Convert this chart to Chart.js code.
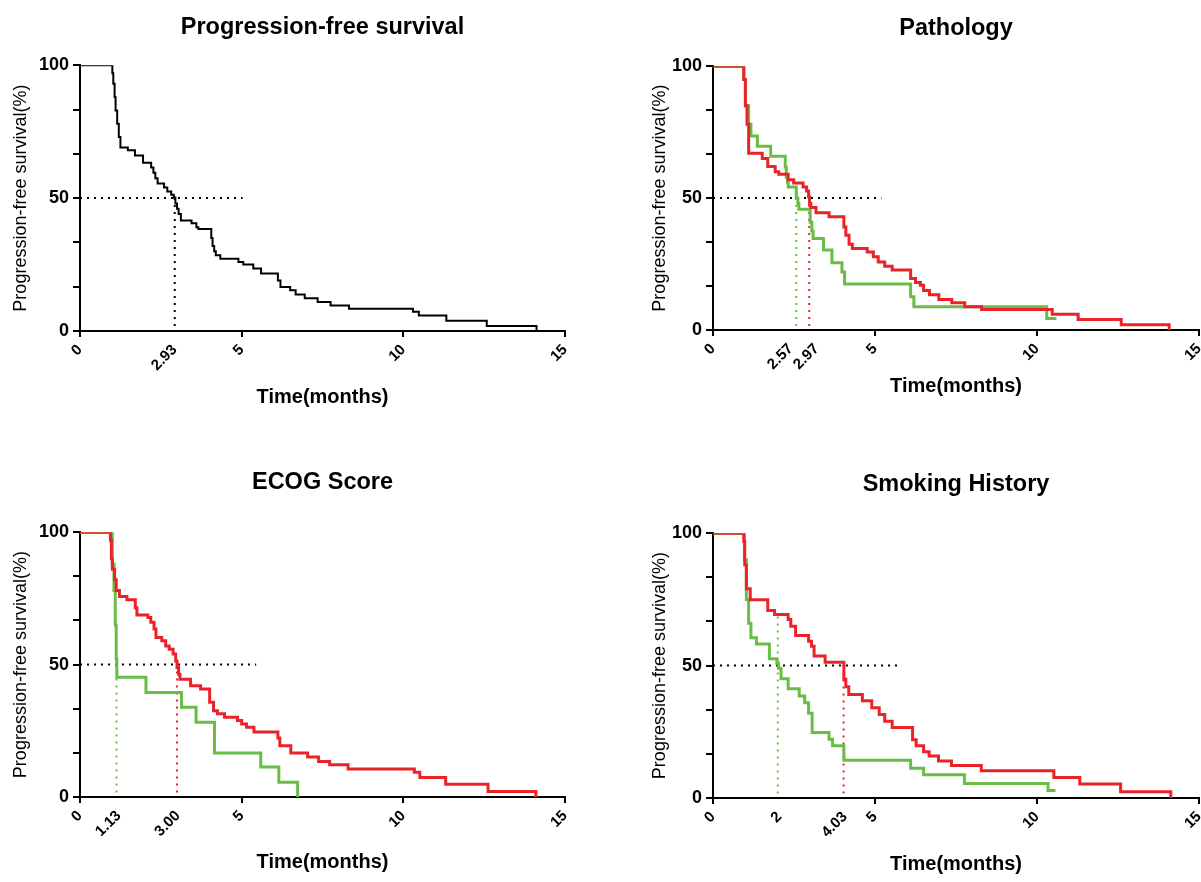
<!DOCTYPE html>
<html><head><meta charset="utf-8">
<script src="https://cdn.jsdelivr.net/npm/chart.js@4.4.1/dist/chart.umd.min.js"></script>
<style>
html,body{margin:0;padding:0;background:#fff;overflow:hidden;width:1201px;height:882px;position:relative;}
canvas{position:absolute;}
</style></head><body>
<canvas id="c1" width="600" height="441" style="left:0;top:0"></canvas>
<canvas id="c2" width="600" height="441" style="left:620px;top:0"></canvas>
<canvas id="c3" width="600" height="441" style="left:0;top:441px"></canvas>
<canvas id="c4" width="600" height="441" style="left:620px;top:441px"></canvas>
<script>
// ---------- data ----------
const titles = ['Progression-free survival', 'Pathology', 'ECOG Score', 'Smoking History'];
const xAxisTitle = 'Time(months)';
const yAxisTitle = 'Progression-free survival(%)';
const xTickValues = [0, 5, 10, 15];
const yTickValues = [0, 16.67, 33.33, 50, 66.67, 83.33, 100];
const yTickLabels = ['0', '', '', '50', '', '', '100'];

// Panel 1: overall PFS
const pfsTime = [0, 1.0, 1.03, 1.07, 1.1, 1.15, 1.2, 1.25, 1.48, 1.7, 1.95, 2.2, 2.27, 2.33, 2.4, 2.6, 2.7, 2.82, 2.9, 2.95, 3.0, 3.05, 3.12, 3.45, 3.6, 3.66, 4.06, 4.1, 4.15, 4.2, 4.34, 4.9, 5.05, 5.36, 5.6, 6.12, 6.2, 6.5, 6.67, 6.95, 7.35, 7.75, 8.32, 10.3, 10.48, 11.33, 12.58, 14.12];
const pfsSurv = [100, 97, 93, 88, 83, 78, 73, 69, 68, 66, 63.3, 61.5, 59.5, 57.5, 55.5, 54, 52.5, 51.3, 50.2, 48, 46, 44, 41.6, 40.5, 39, 38.4, 35, 32, 30, 28.5, 27.2, 26, 25, 23.5, 21.6, 19, 16.6, 15.3, 13.7, 12.3, 10.9, 9.6, 8.4, 7.2, 5.8, 3.9, 1.9, 0];
const pfsMedians = [2.93];
const pfsMedianLabels = ['2.93'];
const pfsMedianLabelAt = [2.93];

// Panel 2: pathology
const pathRedTime = [0, 0.95, 1.0, 1.05, 1.1, 1.52, 1.69, 1.92, 2.03, 2.32, 2.49, 2.78, 2.89, 2.95, 2.98, 3.02, 3.18, 3.58, 4.04, 4.1, 4.2, 4.3, 4.76, 4.95, 5.1, 5.3, 5.53, 6.1, 6.25, 6.4, 6.5, 6.68, 6.97, 7.37, 7.77, 8.29, 10.47, 11.27, 12.6, 14.08];
const pathRedSurv = [100, 95, 85, 78, 67, 65, 62, 60, 59, 57, 55.7, 54.2, 52.7, 50.5, 48, 46.4, 44.4, 42.9, 39, 35.9, 32.5, 30.9, 29.6, 27.8, 25.8, 24.2, 22.7, 19.5, 18, 17, 15, 13.4, 11.6, 10.3, 8.8, 7.8, 6, 4, 2, 0];
const pathGreenTime = [0, 0.95, 1.0, 1.1, 1.17, 1.37, 1.78, 2.23, 2.26, 2.3, 2.32, 2.57, 2.62, 2.65, 3.0, 3.05, 3.09, 3.41, 3.67, 3.98, 4.06, 6.1, 6.2, 10.3, 10.6];
const pathGreenSurv = [100, 95, 85, 78, 73.5, 69.7, 65.9, 61.8, 58, 56, 54.2, 50, 48, 45.8, 40.8, 37.5, 34.7, 30.3, 25.5, 22, 17.4, 12.6, 8.8, 4.4, 4.4];
const pathMedians = [2.57, 2.97];
const pathMedianLabels = ['2.57', '2.97'];
const pathMedianLabelAt = [2.4, 3.2];   // labels nudged apart as in the original figure

// Panel 3: ECOG score
const ecogRedTime = [0, 0.94, 0.97, 1.0, 1.07, 1.12, 1.22, 1.45, 1.71, 1.76, 2.1, 2.19, 2.29, 2.35, 2.53, 2.65, 2.76, 2.88, 2.96, 3.0, 3.05, 3.09, 3.42, 3.73, 4.01, 4.13, 4.25, 4.47, 4.87, 5.0, 5.15, 5.38, 6.12, 6.18, 6.52, 7.04, 7.38, 7.72, 8.29, 10.34, 10.51, 11.31, 12.62, 14.1];
const ecogRedSurv = [100, 97, 90, 86, 82, 78, 75.7, 74.5, 71.5, 68.7, 67.8, 66, 63.4, 60.2, 59, 57, 55.8, 54, 51.4, 48.9, 46.4, 44.5, 42, 40.8, 35.8, 32.6, 31.4, 30.1, 28.9, 27.6, 26.3, 24.5, 22.3, 19.4, 16.6, 15.1, 13.4, 12.2, 10.6, 9.3, 7.4, 4.8, 2.1, 0];
const ecogGreenTime = [0, 1.0, 1.05, 1.09, 1.12, 1.14, 2.04, 3.14, 3.59, 4.16, 5.59, 6.15, 6.73];
const ecogGreenSurv = [100, 88, 78, 65, 52, 45.2, 39.5, 33.9, 28.2, 16.6, 11.3, 5.6, 0];
const ecogMedians = [1.13, 3.00];
const ecogMedianLabels = ['1.13', '3.00'];
const ecogMedianLabelAt = [1.2, 3.03];

// Panel 4: smoking history
const smokeRedTime = [0, 0.95, 0.98, 1.03, 1.15, 1.69, 1.9, 2.32, 2.4, 2.55, 2.95, 3.04, 3.12, 3.46, 4.04, 4.1, 4.19, 4.61, 4.9, 5.13, 5.3, 5.53, 6.16, 6.27, 6.5, 6.67, 6.96, 7.36, 8.28, 10.52, 11.32, 12.58, 14.13];
const smokeRedSurv = [100, 97, 88, 79, 74.9, 70.8, 69.3, 67.4, 64.9, 61.4, 59.2, 57.3, 53.6, 51.3, 44.8, 42, 39.1, 36.7, 34.1, 31.5, 29, 26.6, 22, 19.7, 17.5, 15.9, 14, 12.3, 10.3, 7.7, 5.3, 2.4, 0];
const smokeGreenTime = [0, 0.97, 1.03, 1.1, 1.17, 1.34, 1.74, 1.97, 2.02, 2.1, 2.32, 2.66, 2.83, 2.95, 3.06, 3.58, 3.69, 4.04, 6.1, 6.5, 7.76, 10.34, 10.57];
const smokeGreenSurv = [100, 90, 75, 66, 60.5, 58.2, 52.6, 51, 49, 45, 41.3, 38.5, 36, 32, 24.7, 22.2, 19.7, 14.3, 11.2, 8.8, 5.5, 2.8, 2.8];
const smokeMedians = [2, 4.03];
const smokeMedianLabels = ['2', '4.03'];
const smokeMedianLabelAt = [2.05, 4.07];

// reference (median) guide lines
const halfLineEnd = [5.03, 5.2, 5.45, 5.68];
const medianTops = [[50], [50, 50], [50, 50], [68.5, 50]];

// ---------- styling ----------
const RED = '#ea2328', GREEN = '#68bd45', BLACK = '#000000';
const FAM = '"Liberation Sans", Arial, Helvetica, sans-serif';

function km(times, surv) { return times.map((t, i) => ({ x: t, y: surv[i] })); }

function makePanel(id, p) {
  const datasets = [];
  p.curves.forEach(c => datasets.push({
    data: km(c.t, c.s), borderColor: c.color, borderWidth: c.w, stepped: 'before',
    pointRadius: 0, fill: false, tension: 0, borderJoinStyle: 'miter', borderCapStyle: 'butt'
  }));
  p.medians.forEach((m, i) => datasets.push({
    data: [{ x: m, y: p.medTops[i] }, { x: m, y: 0 }], borderColor: p.medColors[i], borderWidth: 2,
    borderDash: [2, 5], pointRadius: 0, fill: false, borderCapStyle: 'butt'
  }));
  datasets.push({
    data: [{ x: 0, y: 50 }, { x: p.hEnd, y: 50 }], borderColor: BLACK, borderWidth: 2,
    borderDash: [2, 5], pointRadius: 0, fill: false, borderCapStyle: 'butt'
  });

  const xTicks = xTickValues.concat(p.medLabelAt).sort((a, b) => a - b);
  const xLabel = v => {
    const k = p.medLabelAt.indexOf(v);
    return k >= 0 ? p.medLabels[k] : String(v);
  };

  new Chart(document.getElementById(id), {
    type: 'line',
    data: { datasets },
    options: {
      responsive: false, animation: false, devicePixelRatio: 1,
      events: [],
      layout: { padding: p.pad },
      plugins: {
        legend: { display: false }, tooltip: { enabled: false },
        title: {
          display: true, text: p.title, fullSize: false, color: BLACK,
          font: { family: FAM, size: 23.5, weight: 'bold' },
          padding: p.titlePad
        }
      },
      scales: {
        x: {
          type: 'linear', min: 0, max: 15,
          afterBuildTicks: s => { s.ticks = xTicks.map(v => ({ value: v })); },
          afterFit: s => { s.height = p.xH; },
          ticks: {
            autoSkip: false, minRotation: 45, maxRotation: 45, padding: 4, color: BLACK,
            font: { family: FAM, size: 15, weight: 'bold' },
            callback: v => xLabel(v)
          },
          grid: {
            display: true, drawOnChartArea: false, drawTicks: true, tickLength: 6,
            lineWidth: 2, tickWidth: 2,
            tickColor: ctx => (ctx.tick && xTickValues.includes(ctx.tick.value)) ? BLACK : 'rgba(0,0,0,0)'
          },
          border: { display: true, color: BLACK, width: 2 },
          title: { display: true, text: xAxisTitle, color: BLACK, padding: 0, font: { family: FAM, size: 20, weight: 'bold' } }
        },
        y: {
          type: 'linear', min: 0, max: 100,
          afterBuildTicks: s => { s.ticks = yTickValues.map(v => ({ value: v })); },
          afterFit: s => { s.width = p.yW; },
          ticks: {
            padding: 4, color: BLACK, font: { family: FAM, size: 18, weight: 'bold' },
            callback: (v, i) => yTickLabels[i]
          },
          grid: { display: true, drawOnChartArea: false, drawTicks: true, tickLength: 7, lineWidth: 2, tickWidth: 2, color: BLACK, tickColor: BLACK },
          border: { display: true, color: BLACK, width: 2 },
          title: { display: true, text: yAxisTitle, color: BLACK, padding: 0, font: { family: FAM, size: 18 } }
        }
      }
    }
  });
}

makePanel('c1', {
  title: titles[0],
  curves: [{ t: pfsTime, s: pfsSurv, color: BLACK, w: 2 }],
  medians: pfsMedians, medLabels: pfsMedianLabels, medLabelAt: pfsMedianLabelAt, medTops: medianTops[0], medColors: [BLACK],
  hEnd: halfLineEnd[0],
  pad: { left: 10, right: 35, top: 0, bottom: 32 }, yW: 70, xH: 78,
  titlePad: { top: 13, bottom: 24 }
});
makePanel('c2', {
  title: titles[1],
  curves: [{ t: pathRedTime, s: pathRedSurv, color: RED, w: 3 }, { t: pathGreenTime, s: pathGreenSurv, color: GREEN, w: 3 }],
  medians: pathMedians, medLabels: pathMedianLabels, medLabelAt: pathMedianLabelAt, medTops: medianTops[1], medColors: [GREEN, RED],
  hEnd: halfLineEnd[1],
  pad: { left: 29, right: 21, top: 0, bottom: 43 }, yW: 64, xH: 68,
  titlePad: { top: 14, bottom: 24 }
});
makePanel('c3', {
  title: titles[2],
  curves: [{ t: ecogRedTime, s: ecogRedSurv, color: RED, w: 3 }, { t: ecogGreenTime, s: ecogGreenSurv, color: GREEN, w: 3 }],
  medians: ecogMedians, medLabels: ecogMedianLabels, medLabelAt: ecogMedianLabelAt, medTops: medianTops[2], medColors: [GREEN, RED],
  hEnd: halfLineEnd[2],
  pad: { left: 10, right: 35, top: 0, bottom: 8 }, yW: 70, xH: 77,
  titlePad: { top: 27, bottom: 36 }
});
makePanel('c4', {
  title: titles[3],
  curves: [{ t: smokeRedTime, s: smokeRedSurv, color: RED, w: 3 }, { t: smokeGreenTime, s: smokeGreenSurv, color: GREEN, w: 3 }],
  medians: smokeMedians, medLabels: smokeMedianLabels, medLabelAt: smokeMedianLabelAt, medTops: medianTops[3], medColors: [GREEN, RED],
  hEnd: halfLineEnd[3],
  pad: { left: 29, right: 21, top: 0, bottom: 6 }, yW: 64, xH: 78,
  titlePad: { top: 29, bottom: 35 }
});
</script>
</body></html>
